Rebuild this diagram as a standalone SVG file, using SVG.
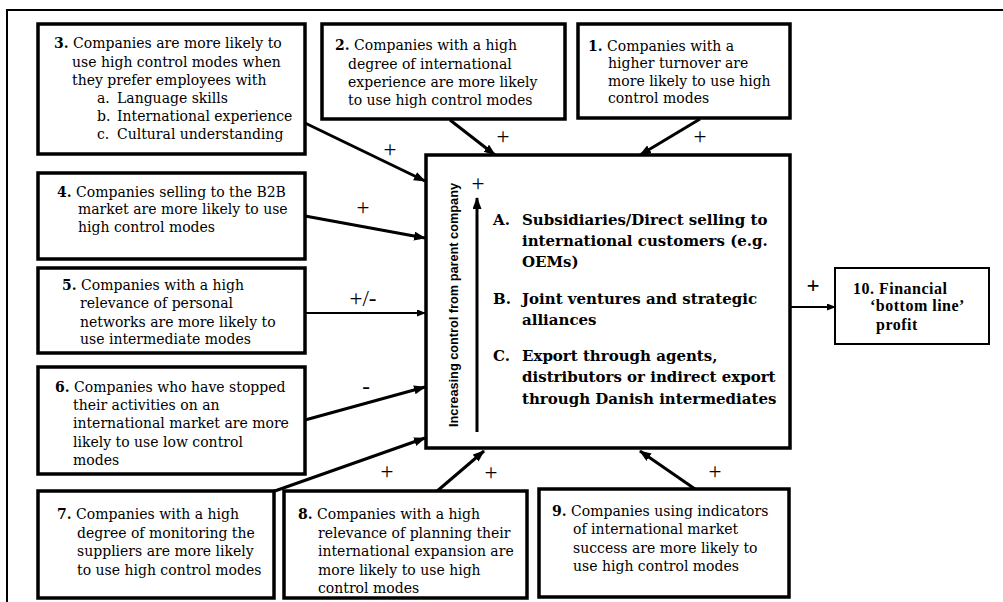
<svg xmlns="http://www.w3.org/2000/svg" width="1003" height="602" viewBox="0 0 1003 602">
<defs>
<style>
.box{fill:#fff;stroke:#000;stroke-width:3.5}
.thin{stroke-width:2}
.t{font-family:"DejaVu Serif","Liberation Serif",serif;font-size:14px;fill:#000}
.c{font-family:"DejaVu Serif","Liberation Serif",serif;font-size:15px;font-weight:bold;fill:#000}
.f{font-family:"Liberation Serif",serif;font-size:16px;font-weight:bold;letter-spacing:0.5px;fill:#000}
.b{font-weight:bold}
.sg{font-family:"Liberation Serif",serif;font-size:23px;fill:#000;text-anchor:middle}
.conn line{stroke:#000;stroke-width:3;marker-end:url(#ah)}
.conn line.th{stroke-width:2;marker-end:url(#ahs)}
</style>
<marker id="ah" markerUnits="userSpaceOnUse" markerWidth="12" markerHeight="10" refX="11" refY="4.5" orient="auto"><path d="M0,0 L12,4.5 L0,9 z" fill="#000"/></marker>
<marker id="ahs" markerUnits="userSpaceOnUse" markerWidth="9" markerHeight="8" refX="8" refY="3.5" orient="auto"><path d="M0,0 L9,3.5 L0,7 z" fill="#000"/></marker>
</defs>
<rect width="1003" height="602" fill="#fff"/>
<path d="M7,602 V10 H1003" fill="none" stroke="#000" stroke-width="2"/>

<g id="connectors" class="conn">
<line x1="305" y1="123" x2="425" y2="181"/>
<line x1="450" y1="120" x2="495" y2="155"/>
<line x1="700" y1="119" x2="640" y2="155"/>
<line x1="305" y1="216" x2="425" y2="238"/>
<line class="th" x1="305" y1="313" x2="425" y2="313"/>
<line x1="305" y1="420" x2="425" y2="387"/>
<line x1="272" y1="492" x2="425" y2="438"/>
<line x1="436" y1="492" x2="484" y2="451"/>
<line x1="695" y1="489" x2="640" y2="451"/>
<line class="th" x1="790" y1="307" x2="835" y2="307"/>
<text class="sg" x="390" y="157">+</text>
<text class="sg" x="503" y="144">+</text>
<text class="sg" x="700" y="144">+</text>
<text class="sg" x="363" y="215">+</text>
<text class="sg" x="363" y="306" font-size="21">+/-</text>
<text class="sg" x="366" y="394">-</text>
<text class="sg" x="387" y="479">+</text>
<text class="sg" x="491" y="480">+</text>
<text class="sg" x="715" y="479">+</text>
<text class="sg" x="813" y="293" font-weight="bold">+</text>
</g>

<g id="node3">
<rect class="box" x="38" y="24" width="267" height="130"/>
<text class="t" x="54" y="48"><tspan class="b">3.</tspan> Companies are more likely to</text>
<text class="t" x="72" y="67">use high control modes when</text>
<text class="t" x="72" y="85">they prefer employees with</text>
<text class="t" x="97" y="103">a.</text><text class="t" x="117" y="103">Language skills</text>
<text class="t" x="97" y="121">b.</text><text class="t" x="117" y="121">International experience</text>
<text class="t" x="97" y="139">c.</text><text class="t" x="117" y="139">Cultural understanding</text>
</g>

<g id="node2">
<rect class="box" x="322" y="24" width="243" height="95"/>
<text class="t" x="335" y="50"><tspan class="b">2.</tspan> Companies with a high</text>
<text class="t" x="348" y="69">degree of international</text>
<text class="t" x="348" y="87">experience are more likely</text>
<text class="t" x="348" y="105">to use  high control modes</text>
</g>

<g id="node1">
<rect class="box" x="578" y="24" width="212" height="94"/>
<text class="t" x="588" y="51"><tspan class="b">1.</tspan> Companies with a</text>
<text class="t" x="608" y="68">higher turnover are</text>
<text class="t" x="608" y="86">more likely  to use high</text>
<text class="t" x="608" y="103">control modes</text>
</g>

<g id="node4">
<rect class="box" x="38" y="173" width="267" height="86"/>
<text class="t" x="57" y="197"><tspan class="b">4.</tspan> Companies selling to the B2B</text>
<text class="t" x="78" y="214">market are more likely  to use</text>
<text class="t" x="78" y="232">high control modes</text>
</g>

<g id="node5">
<rect class="box" x="38" y="268" width="267" height="85"/>
<text class="t" x="62" y="290"><tspan class="b">5.</tspan> Companies with a high</text>
<text class="t" x="80" y="308">relevance of personal</text>
<text class="t" x="80" y="327">networks are more likely to</text>
<text class="t" x="80" y="344">use intermediate modes</text>
</g>

<g id="node6">
<rect class="box" x="38" y="367" width="267" height="107"/>
<text class="t" x="55" y="392"><tspan class="b">6.</tspan> Companies who have stopped</text>
<text class="t" x="73" y="410">their activities  on an</text>
<text class="t" x="73" y="428">international market are more</text>
<text class="t" x="73" y="447">likely  to use low control</text>
<text class="t" x="73" y="465">modes</text>
</g>

<g id="node7">
<rect class="box" x="38" y="491" width="236" height="107"/>
<text class="t" x="57" y="519"><tspan class="b">7.</tspan> Companies with a high</text>
<text class="t" x="77" y="538">degree of monitoring the</text>
<text class="t" x="77" y="556">suppliers are more likely</text>
<text class="t" x="77" y="575">to use high control modes</text>
</g>

<g id="node8">
<rect class="box" x="284" y="491" width="243" height="107"/>
<text class="t" x="298" y="519"><tspan class="b">8.</tspan> Companies with a high</text>
<text class="t" x="318" y="538">relevance of planning their</text>
<text class="t" x="318" y="556">international expansion are</text>
<text class="t" x="318" y="575">more likely  to use high</text>
<text class="t" x="318" y="593">control modes</text>
</g>

<g id="node9">
<rect class="box" x="539" y="489" width="250" height="108"/>
<text class="t" x="552" y="516"><tspan class="b">9.</tspan> Companies using indicators</text>
<text class="t" x="573" y="534">of international market</text>
<text class="t" x="573" y="553">success are more likely  to</text>
<text class="t" x="573" y="571">use high control modes</text>
</g>

<g id="node-modes">
<rect class="box" x="426" y="155" width="364" height="293"/>
<text font-family="'Liberation Sans',sans-serif" font-weight="bold" font-size="12.5" transform="translate(458,427) rotate(-90)" textLength="244" lengthAdjust="spacingAndGlyphs">Increasing control from parent company</text>
<line x1="477" y1="432" x2="477" y2="198" stroke="#000" stroke-width="3" marker-end="url(#ah)"/>
<text class="sg" x="478" y="191" font-size="24">+</text>
<text class="c" x="493" y="225">A.</text>
<text class="c" x="522" y="225">Subsidiaries/Direct selling to</text>
<text class="c" x="522" y="246">international customers (e.g.</text>
<text class="c" x="522" y="267">OEMs)</text>
<text class="c" x="493" y="304">B.</text>
<text class="c" x="522" y="304">Joint ventures and strategic</text>
<text class="c" x="522" y="325">alliances</text>
<text class="c" x="493" y="361">C.</text>
<text class="c" x="522" y="361">Export through agents,</text>
<text class="c" x="522" y="382">distributors or indirect export</text>
<text class="c" x="522" y="404">through Danish intermediates</text>
</g>

<g id="node10">
<rect class="box thin" x="835" y="268" width="154" height="76"/>
<text class="f" x="853" y="294">10. Financial</text>
<text class="f" x="870" y="311">‘bottom line’</text>
<text class="f" x="876" y="330">profit</text>
</g>
</svg>
